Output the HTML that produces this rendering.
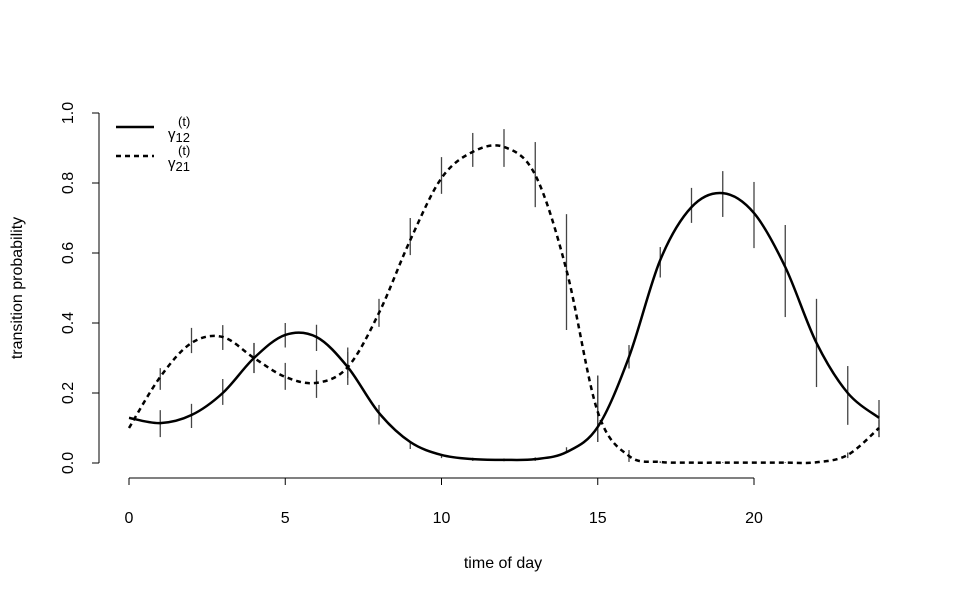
<!DOCTYPE html>
<html><head><meta charset="utf-8"><style>
body{margin:0;background:#fff}
svg text{font-family:"Liberation Sans",Arial,sans-serif;fill:#000}
</style></head><body>
<svg id="chart" width="960" height="600" viewBox="0 0 960 600" xmlns="http://www.w3.org/2000/svg">
<g id="axes"></g>
<g id="bars"></g>
<g id="lines"></g>
<g id="legend">
  <line x1="116" y1="127" x2="154" y2="127" stroke="#000" stroke-width="2.5"/>
  <line x1="116" y1="156" x2="154" y2="156" stroke="#000" stroke-width="2.5" stroke-dasharray="5,4"/>
  <text x="168" y="139" font-size="15">γ<tspan font-size="13" dy="3">12</tspan><tspan font-size="13" x="178" y="126">(t)</tspan></text>
  <text x="168" y="168" font-size="15">γ<tspan font-size="13" dy="3">21</tspan><tspan font-size="13" x="178" y="155">(t)</tspan></text>
</g>
<text x="503" y="568" font-size="16" text-anchor="middle">time of day</text>
<text transform="translate(22,288) rotate(-90)" font-size="16" text-anchor="middle">transition probability</text>
</svg>
<script>
const hours=[0,1,2,3,4,5,6,7,8,9,10,11,12,13,14,15,16,17,18,19,20,21,22,23,24];
const gamma12=[0.129,0.114,0.137,0.2,0.3,0.366,0.36,0.274,0.143,0.06,0.023,0.011,0.009,0.011,0.031,0.103,0.303,0.58,0.731,0.771,0.714,0.56,0.343,0.2,0.129];
const gamma21=[0.1,0.246,0.343,0.36,0.3,0.246,0.229,0.274,0.429,0.637,0.814,0.889,0.903,0.823,0.551,0.146,0.02,0.003,0.001,0.001,0.001,0.001,0.002,0.023,0.1];
const barHours=[1,2,3,4,5,6,7,8,9,10,11,12,13,14,15,16,17,18,19,20,21,22,23,24];
const lo12=[0.074,0.1,0.166,0.257,0.33,0.32,0.243,0.11,0.04,0.014,0.006,0.005,0.006,0.03,0.06,0.27,0.53,0.686,0.703,0.614,0.417,0.217,0.109,0.074];
const hi12=[0.151,0.169,0.24,0.343,0.4,0.395,0.33,0.166,0.06,0.023,0.015,0.013,0.016,0.045,0.25,0.337,0.617,0.786,0.834,0.803,0.68,0.469,0.277,0.18];
const lo21=[0.209,0.314,0.323,0.257,0.209,0.186,0.223,0.389,0.594,0.769,0.846,0.846,0.731,0.38,0.06,0.003,0,0,0,0,0,0,0.014,0.074];
const hi21=[0.271,0.386,0.394,0.343,0.286,0.266,0.317,0.469,0.7,0.874,0.943,0.954,0.917,0.711,0.25,0.037,0.005,0.002,0.002,0.002,0.002,0.004,0.03,0.123];
const xTicks=[0,5,10,15,20];
const yTicks=[0,0.2,0.4,0.6,0.8,1.0];
const yTickLabels=["0.0","0.2","0.4","0.6","0.8","1.0"];

const NS="http://www.w3.org/2000/svg";
const X=v=>129+v*31.25, Y=v=>463-v*350;
function mk(tag,attrs,parent){const e=document.createElementNS(NS,tag);for(const k in attrs)e.setAttribute(k,attrs[k]);parent.appendChild(e);return e;}
const axes=document.getElementById('axes');
let xl=mk('line',{x1:X(0),x2:X(20),y1:478,y2:478,stroke:'#000'},axes);


xTicks.forEach(t=>{
  let tk=mk('line',{x1:X(t),x2:X(t),y1:478,y2:485,stroke:'#000'},axes);
  
  
  let tx=mk('text',{x:X(t),y:523,'font-size':16,'text-anchor':'middle'},axes);tx.textContent=t;
  
  
});
let yl=mk('line',{x1:99,x2:99,y1:Y(0),y2:Y(1),stroke:'#000'},axes);


yTicks.forEach((t,i)=>{
  let tk=mk('line',{x1:92,x2:99,y1:Y(t),y2:Y(t),stroke:'#000'},axes);
  
  
  let tx=mk('text',{transform:`translate(73,${Y(t)}) rotate(-90)`,'font-size':16,'text-anchor':'middle'},axes);tx.textContent=yTickLabels[i];
  
  
});
const bars=document.getElementById('bars');
barHours.forEach((h,i)=>{
  let b1=mk('line',{x1:X(h),x2:X(h),y1:Y(lo12[i]),y2:Y(hi12[i]),stroke:'#444','stroke-width':1.3},bars);
  
  
  let b2=mk('line',{x1:X(h),x2:X(h),y1:Y(lo21[i]),y2:Y(hi21[i]),stroke:'#444','stroke-width':1.3},bars);
  
  
});
function path(vals){
  const p=hours.map((h,i)=>[X(h),Y(vals[i])]);
  let d=`M${p[0][0]},${p[0][1]}`;
  for(let i=0;i<p.length-1;i++){
    const p0=p[Math.max(0,i-1)],p1=p[i],p2=p[i+1],p3=p[Math.min(p.length-1,i+2)];
    const c1=[p1[0]+(p2[0]-p0[0])/6,p1[1]+(p2[1]-p0[1])/6];
    const c2=[p2[0]-(p3[0]-p1[0])/6,p2[1]-(p3[1]-p1[1])/6];
    d+=` C${c1[0]},${c1[1]} ${c2[0]},${c2[1]} ${p2[0]},${p2[1]}`;
  }
  return d;
}
const lines=document.getElementById('lines');
let l1=mk('path',{d:path(gamma12),fill:'none',stroke:'#000','stroke-width':2.5},lines);


let l2=mk('path',{d:path(gamma21),fill:'none',stroke:'#000','stroke-width':2.5,'stroke-dasharray':'5,4'},lines);


</script>
</body></html>
